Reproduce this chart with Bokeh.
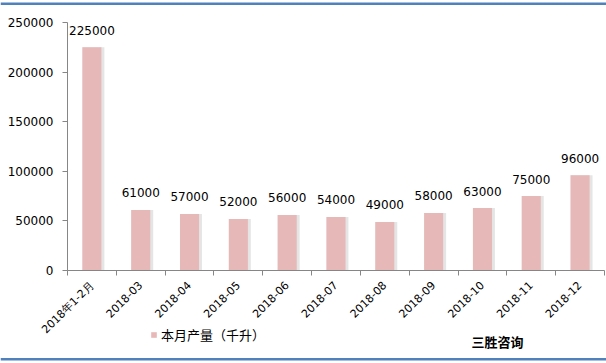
import math
from bokeh.plotting import figure
from bokeh.models import (Range1d, FixedTicker, ColumnDataSource, Legend, LegendItem,
                          Label, BoxAnnotation, NumeralTickFormatter)
from bokeh.transform import dodge
from bokeh.core.properties import value
from bokeh.embed import file_html
from bokeh.resources import INLINE

categories = ["2018年1-2月", "2018-03", "2018-04", "2018-05", "2018-06", "2018-07",
              "2018-08", "2018-09", "2018-10", "2018-11", "2018-12"]
production = [225000, 61000, 57000, 52000, 56000, 54000, 49000, 58000, 63000, 75000, 96000]
y_ticks = [0, 50000, 100000, 150000, 200000, 250000]
series_name = "本月产量（千升）"
brand = "三胜咨询"

BAR_COLOR = "#E6B8B7"
BLUE = "#4F81BD"
AXIS_COLOR = "#868686"
W, H = 606, 363
# pixel box of the plotting area inside the canvas
PX_L, PX_R, PX_T, PX_B = 67, 604, 22, 270

N = len(categories)
YMAX = y_ticks[-1]
x_per_px = N / (PX_R - PX_L)
y_per_px = YMAX / (PX_B - PX_T)

p = figure(width=W, height=H, output_backend="svg", toolbar_location=None,
           x_range=Range1d(-PX_L * x_per_px, N + (W - PX_R) * x_per_px),
           y_range=Range1d(-(H - PX_B) * y_per_px, YMAX + PX_T * y_per_px),
           min_border=0, min_border_left=0, min_border_right=0,
           min_border_top=0, min_border_bottom=0)
p.background_fill_color = "white"
p.border_fill_color = "white"
p.outline_line_color = None
p.xgrid.visible = False
p.ygrid.visible = False

xs = [i + 0.5 for i in range(N)]
src = ColumnDataSource(dict(x=xs, top=production, label=[str(v) for v in production]))

p.vbar(x=dodge("x", 0.03, range=p.x_range), top="top", bottom=0, width=0.45, source=src,
       fill_color="#CFCFCF", fill_alpha=0.55, line_color=None)
bars = p.vbar(x="x", top="top", bottom=0, width=0.39, source=src,
              fill_color=BAR_COLOR, line_color=None)
p.text(x="x", y="top", text="label", source=src, text_align="center",
       text_baseline="middle", y_offset=-17, text_font=value("DejaVu Sans"),
       text_font_size="12px", text_color="black")

xa = p.xaxis[0]
xa.fixed_location = 0
xa.bounds = (0, N)
xa.ticker = FixedTicker(ticks=xs, minor_ticks=list(range(N + 1)))
xa.major_label_overrides = {x: c for x, c in zip(xs, categories)}
xa.major_tick_line_color = None
xa.minor_tick_line_color = AXIS_COLOR
xa.minor_tick_out = 5
xa.minor_tick_in = 0
xa.axis_line_color = AXIS_COLOR
xa.major_label_orientation = math.pi / 4
xa.major_label_text_font = "DejaVu Sans"
xa.major_label_text_font_size = "11px"
xa.major_label_text_color = "black"
xa.major_label_standoff = 7

ya = p.yaxis[0]
ya.fixed_location = 0
ya.bounds = (0, YMAX)
ya.ticker = FixedTicker(ticks=y_ticks, minor_ticks=[])
ya.formatter = NumeralTickFormatter(format="0")
ya.axis_line_color = AXIS_COLOR
ya.major_tick_line_color = AXIS_COLOR
ya.major_tick_out = 5
ya.major_tick_in = 0
ya.minor_tick_line_color = None
ya.major_label_text_font = "DejaVu Sans"
ya.major_label_text_font_size = "12px"
ya.major_label_text_color = "black"
ya.major_label_standoff = 9

legend = Legend(items=[LegendItem(label=series_name, renderers=[bars])],
                location=(150, H - 336.5 - 7), orientation="horizontal",
                border_line_color=None, background_fill_alpha=0,
                padding=0, margin=0, spacing=0, glyph_width=7, glyph_height=7,
                label_standoff=4, label_height=14, label_text_color="black",
                label_text_font="Noto Sans CJK SC", label_text_font_size="13px")
p.add_layout(legend)

p.add_layout(Label(x=471, y=H - 341, x_units="screen", y_units="screen", text=brand,
                   text_baseline="middle", text_font="Noto Sans CJK SC",
                   text_font_size="13px", text_font_style="bold", text_color="black"))

for top_px, bottom_px in [(2, 4.5), (357.5, 360)]:
    p.add_layout(BoxAnnotation(left=0, right=W, top=H - top_px, bottom=H - bottom_px,
                               left_units="screen", right_units="screen",
                               top_units="screen", bottom_units="screen",
                               fill_color=BLUE, fill_alpha=1, line_alpha=0))

open("out.html", "w").write(file_html(p, INLINE))
